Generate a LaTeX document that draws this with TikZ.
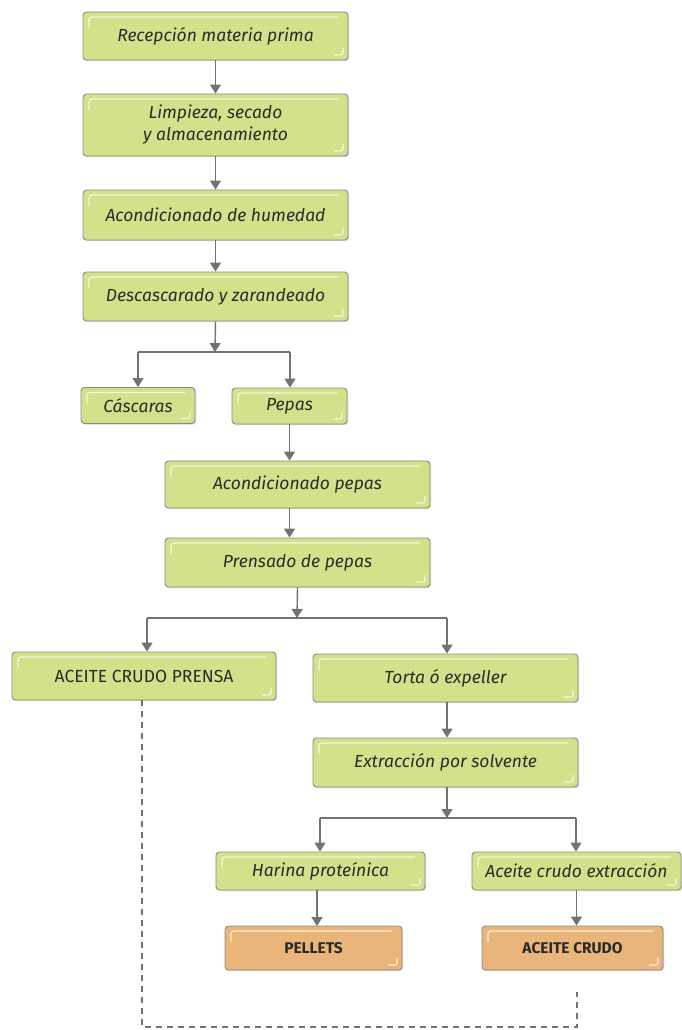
\documentclass[tikz,border=0pt]{standalone}
\usepackage{fontspec}
\newfontfamily\lab{Fira Sans}
\usetikzlibrary{arrows.meta,shadows}
\definecolor{boxgreen}{HTML}{D5E08B}
\definecolor{boxorange}{HTML}{E9B57A}
\definecolor{bordergray}{HTML}{8A8A8A}
\definecolor{linegray}{HTML}{727272}
\definecolor{txt}{HTML}{2A2A2A}
\tikzset{
  hl/.style={path picture={
    \draw[white,opacity=0.75,line width=1.3pt,rounded corners=3pt]
      ([xshift=6pt,yshift=-16pt]path picture bounding box.north west) |-
      ([xshift=-10pt,yshift=-5pt]path picture bounding box.north east);
    \draw[white,opacity=0.75,line width=1.1pt,rounded corners=2pt]
      ([xshift=-14pt,yshift=5pt]path picture bounding box.south east) -|
      ([xshift=-5pt,yshift=12pt]path picture bounding box.south east);}},
  box/.style={draw=bordergray,line width=0.9pt,rounded corners=3.5pt,fill=boxgreen,
    text=txt,font=\lab\itshape\fontsize{17.5}{22}\selectfont,align=center,
    inner sep=0pt,drop shadow={shadow xshift=1pt,shadow yshift=-1.2pt,opacity=0.3},hl},
  capbox/.style={box,font=\lab\fontsize{17.5}{22}\selectfont},
  endbox/.style={box,fill=boxorange,font=\lab\bfseries\fontsize{15.5}{20}\selectfont},
  arr/.style={draw=linegray,line width=1.4pt,-{Triangle[width=11pt,length=9pt]},fill=linegray},
  ln/.style={draw=linegray,line width=1.4pt},
  dl/.style={draw=linegray,line width=1.3pt,dash pattern=on 6pt off 5pt}
}
\begin{document}
\begin{tikzpicture}[x=1pt,y=-1pt]
\useasboundingbox (0,0) rectangle (682,1030);
\fill[white] (0,0) rectangle (682,1030);
% nodes
\node[box,minimum width=265pt,minimum height=48pt] (n1) at (215.5,36) {Recepción materia prima};
\node[box,minimum width=265pt,minimum height=62pt] (n2) at (215.5,125) {Limpieza, secado\\y almacenamiento};
\node[box,minimum width=265pt,minimum height=50pt] (n3) at (215.5,215) {Acondicionado de humedad};
\node[box,minimum width=265pt,minimum height=49pt] (n4) at (215.5,296.5) {Descascarado y zarandeado};
\node[box,minimum width=114pt,minimum height=36pt] (n5) at (138,405.5) {Cáscaras};
\node[box,minimum width=115pt,minimum height=36pt] (n6) at (289.5,406) {Pepas};
\node[box,minimum width=265pt,minimum height=47pt] (n7) at (297.5,484.5) {Acondicionado pepas};
\node[box,minimum width=265pt,minimum height=49pt] (n8) at (297.5,562.5) {Prensado de pepas};
\node[capbox,minimum width=264pt,minimum height=48pt] (n9) at (144,676) {ACEITE CRUDO PRENSA};
\node[box,minimum width=265pt,minimum height=48pt] (n10) at (445.5,678) {Torta ó expeller};
\node[box,minimum width=265pt,minimum height=49pt] (n11) at (445.5,762.5) {Extracción por solvente};
\node[box,minimum width=209pt,minimum height=38pt] (n12) at (320.5,871) {Harina proteínica};
\node[box,minimum width=209pt,minimum height=38pt] (n13) at (576.5,871) {Aceite crudo extracción};
\node[endbox,minimum width=177pt,minimum height=44pt] (n14) at (313.5,948) {PELLETS};
\node[endbox,minimum width=181pt,minimum height=44pt] (n15) at (572.5,948) {ACEITE CRUDO};
% junctions
\coordinate (j1) at (215,352);
\coordinate (j2) at (297,618);
\coordinate (j3) at (447,818);
% connectors
\draw[arr] (n1.south) -- (n2.north);
\draw[arr] (n2.south) -- (n3.north);
\draw[arr] (n3.south) -- (n4.north);
\draw[arr] (n4.south) -- (j1);
\draw[ln] (j1) -- (138,352) coordinate (j1a);
\draw[ln] (j1) -- (290,352) coordinate (j1b);
\draw[arr] (j1a) -- (n5.north);
\draw[arr] (j1b) -- (j1b |- n6.north);
\draw[arr] (n6.south) -- (n6.south |- n7.north);
\draw[arr] (n6.south |- n7.south) -- (n6.south |- n8.north);
\draw[arr] (n8.south) -- (j2);
\draw[ln] (147,618) coordinate (j2a) -- (447,618) coordinate (j2b);
\draw[arr] (j2a) -- (j2a |- n9.north);
\draw[arr] (j2b) -- (j2b |- n10.north);
\draw[arr] (n10.south -| j2b) -- (j2b |- n11.north);
\draw[arr] (n11.south -| j2b) -- (j3);
\draw[ln] (320,818) coordinate (j3a) -- (576,818) coordinate (j3b);
\draw[arr] (j3a) -- (j3a |- n12.north);
\draw[arr] (j3b) -- (j3b |- n13.north);
\draw[arr] (317,890) -- (317,926);
\draw[arr] (n13.south) -- (n13.south |- n15.north);
% dashed return
\coordinate (d1) at (142,1027);
\coordinate (d2) at (577,1027);
\coordinate (d3) at (577,992);
\draw[dl] (n9.south -| d1) -- (d1) -- (d2) -- (d3);
\end{tikzpicture}
\end{document}
